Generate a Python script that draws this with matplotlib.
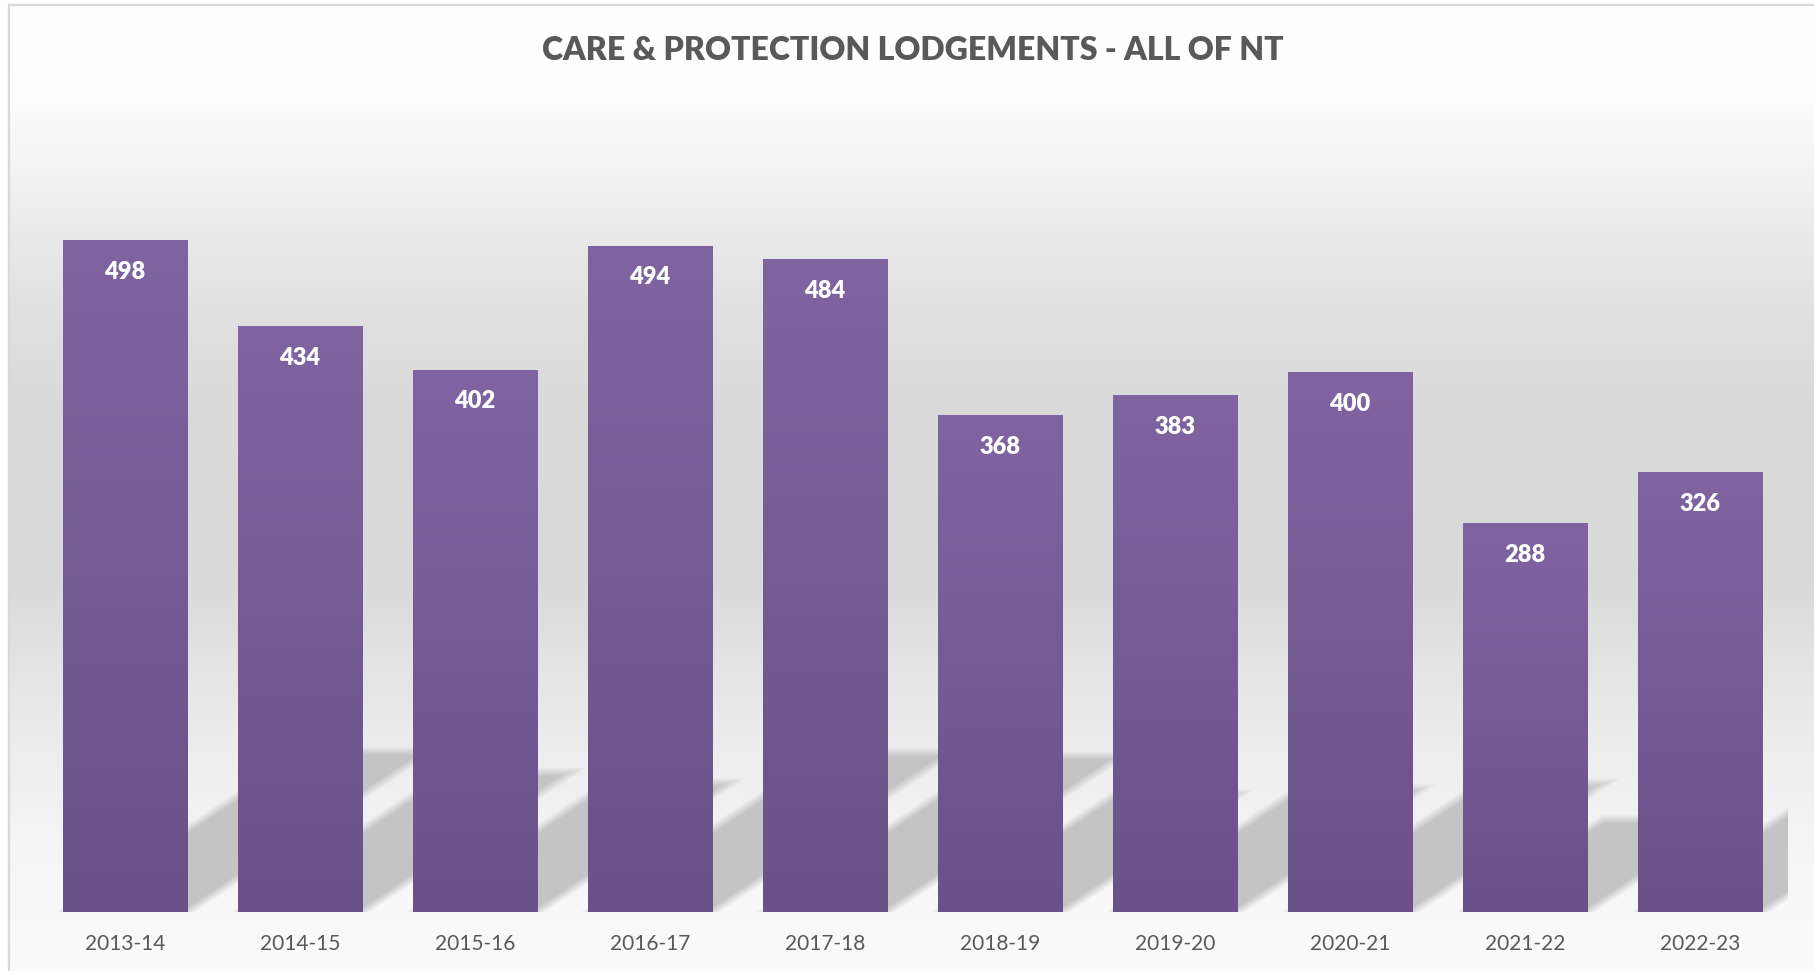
import numpy as np
import matplotlib
matplotlib.use("Agg")
import matplotlib.pyplot as plt
from matplotlib.colors import LinearSegmentedColormap, to_rgb

# ---------------- data ----------------
years = ["2013-14", "2014-15", "2015-16", "2016-17", "2017-18",
         "2018-19", "2019-20", "2020-21", "2021-22", "2022-23"]
lodgements = [498, 434, 402, 494, 484, 368, 383, 400, 288, 326]
title = "CARE & PROTECTION LODGEMENTS - ALL OF NT"

# ---------------- figure ----------------
W, H = 1814, 971
fig = plt.figure(figsize=(W / 100, H / 100), dpi=100)
fig.patch.set_facecolor("white")

# background gradient + frame
bg = fig.add_axes([0, 0, 1, 1], zorder=0)
bg.set_xlim(0, W)
bg.set_ylim(H, 0)
bg.axis("off")
bg_stops = [(0.0, "#ffffff"), (0.10, "#fcfcfc"), (0.30, "#e2e2e2"),
            (0.42, "#d9d9d9"), (0.60, "#dadada"), (0.75, "#ebebeb"),
            (0.90, "#f7f7f7"), (1.0, "#fbfbfb")]
bg_cmap = LinearSegmentedColormap.from_list("bg", bg_stops)
grad = np.linspace(0, 1, 600).reshape(-1, 1)
bg.imshow(grad, cmap=bg_cmap, extent=(8, W, H, 5), aspect="auto",
          vmin=0, vmax=1, interpolation="bilinear")
bg.plot([8, W], [5.5, 5.5], color="#d9d9d9", lw=1.6, solid_capstyle="butt")
bg.plot([8.5, 8.5], [5, H], color="#d9d9d9", lw=1.6, solid_capstyle="butt")

# main axes
ymax = 560
ax_left_px, ax_bottom_px, ax_w_px = 37.5, 59, 1750
ax_h_px = ymax * 1.348
ax = fig.add_axes([ax_left_px / W, ax_bottom_px / H, ax_w_px / W, ax_h_px / H], zorder=1)
ax.patch.set_alpha(0)
for s in ax.spines.values():
    s.set_visible(False)

x = np.arange(len(years))
bw = 0.714

# ---- perspective shadows (raster) ----
ppx = ax_w_px / 10.0      # pixels per x unit
ppy = ax_h_px / ymax      # pixels per y unit
nx, ny = int(ax_w_px), int(round(ax_h_px))
gx = np.arange(nx) + 0.5
gy = np.arange(ny) + 0.5
GX, GY = np.meshgrid(gx, gy)
alpha = np.zeros_like(GX)
k, shear, blur = 0.24, 1.5, 9.0
norm = np.sqrt(1 + shear ** 2)
for xi, v in zip(x, lodgements):
    xl = (xi - bw / 2 + 0.5) * ppx
    xr = (xi + bw / 2 + 0.5) * ppx
    hp = v * ppy
    sh = k * hp
    d_bot = GY
    d_top = sh - GY
    d_l = (GX - (xl + shear * GY)) / norm
    d_r = ((xr + shear * GY) - GX) / norm
    d = np.minimum(np.minimum(d_bot, d_top), np.minimum(d_l, d_r))
    a = np.clip(d / blur + 0.5, 0, 1)
    alpha = np.maximum(alpha, a)
sh_rgba = np.zeros((ny, nx, 4))
sh_rgba[..., :3] = np.array(to_rgb("#c4c4c4"))
sh_rgba[..., 3] = alpha
ax.imshow(sh_rgba, extent=(-0.5, 9.5, 0, ymax), origin="lower",
          aspect="auto", zorder=1, interpolation="bilinear")

# ---- bars with vertical gradient ----
bar_cmap = LinearSegmentedColormap.from_list("bar", ["#6a5189", "#8064a2"])
bars = ax.bar(x, lodgements, width=bw, color="none", edgecolor="none", zorder=2)
bgrad = np.linspace(0, 1, 256).reshape(-1, 1)
for b in bars:
    x0, w, h = b.get_x(), b.get_width(), b.get_height()
    ax.imshow(bgrad, cmap=bar_cmap, extent=(x0, x0 + w, 0, h), origin="lower",
              aspect="auto", zorder=3, interpolation="bilinear")

for xi, v in zip(x, lodgements):
    ax.annotate(str(v), (xi, v), xytext=(0, -22.5), textcoords="offset points",
                ha="center", va="center", color="white", fontsize=17,
                fontweight="heavy", family="Lato", zorder=4)

ax.set_xlim(-0.5, 9.5)
ax.set_ylim(0, ymax)
ax.set_xticks(x, years)
ax.set_yticks([])
ax.tick_params(axis="x", length=0, pad=16, labelsize=15, labelcolor="#595959")
for t in ax.get_xticklabels():
    t.set_family("Lato")

fig.text(913 / W, 1 - 50 / H, title, ha="center", va="center", fontsize=23,
         fontweight="heavy", color="#595959", family="Lato")

fig.savefig("out.png", dpi=100)
